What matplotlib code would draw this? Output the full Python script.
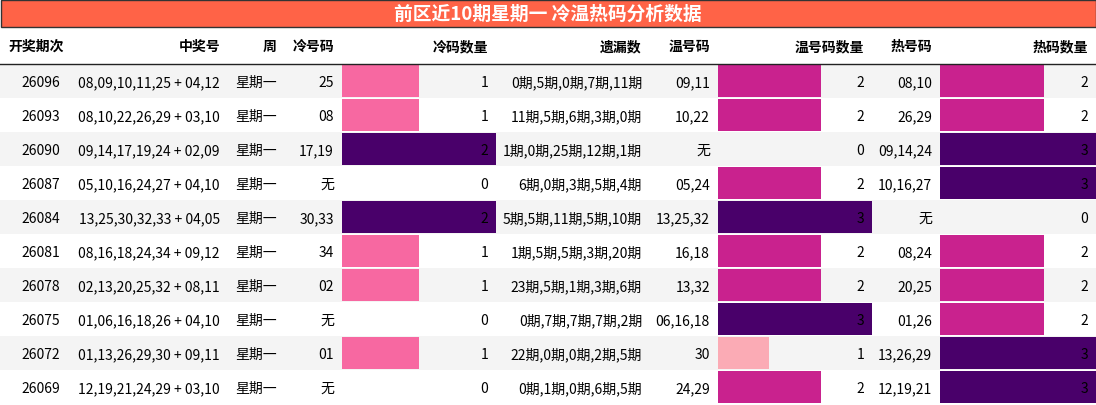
import matplotlib
matplotlib.use('Agg')
import matplotlib.pyplot as plt
from matplotlib.patches import Rectangle

plt.rcParams['font.family'] = ['Noto Sans CJK SC', 'DejaVu Sans']

title = '前区近10期星期一 冷温热码分析数据'
headers = ['开奖期次', '中奖号', '周', '冷号码', '冷码数量', '遗漏数', '温号码', '温号码数量', '热号码', '热码数量']
issues = ['26096', '26093', '26090', '26087', '26084', '26081', '26078', '26075', '26072', '26069']
numbers = ['08,09,10,11,25 + 04,12', '08,10,22,26,29 + 03,10', '09,14,17,19,24 + 02,09',
           '05,10,16,24,27 + 04,10', '13,25,30,32,33 + 04,05', '08,16,18,24,34 + 09,12',
           '02,13,20,25,32 + 08,11', '01,06,16,18,26 + 04,10', '01,13,26,29,30 + 09,11',
           '12,19,21,24,29 + 03,10']
weekday = ['星期一'] * 10
cold = ['25', '08', '17,19', '无', '30,33', '34', '02', '无', '01', '无']
cold_n = [1, 1, 2, 0, 2, 1, 1, 0, 1, 0]
miss = ['0期,5期,0期,7期,11期', '11期,5期,6期,3期,0期', '1期,0期,25期,12期,1期', '6期,0期,3期,5期,4期',
        '5期,5期,11期,5期,10期', '1期,5期,5期,3期,20期', '23期,5期,1期,3期,6期', '0期,7期,7期,7期,2期',
        '22期,0期,0期,2期,5期', '0期,1期,0期,6期,5期']
warm = ['09,11', '10,22', '无', '05,24', '13,25,32', '16,18', '13,32', '06,16,18', '30', '24,29']
warm_n = [2, 2, 0, 2, 3, 2, 2, 3, 1, 2]
hot = ['08,10', '26,29', '09,14,24', '10,16,27', '无', '08,24', '20,25', '01,26', '13,26,29', '12,19,21']
hot_n = [2, 2, 3, 3, 0, 2, 2, 2, 3, 3]

# column edges in pixels
edges = [0, 68, 228, 285, 342, 496, 650, 718, 872, 940, 1096]
bar_cols = {4: (cold_n, 2), 7: (warm_n, 3), 9: (hot_n, 3)}
colors = {1: '#f768a1', 2: '#c51b8a', 3: '#49006a'}
warm_colors = {1: '#fbabb5', 2: '#c9228e', 3: '#49006a'}
cold_colors = {1: '#f768a1', 2: '#49006a'}
hot_colors = {2: '#c9228e', 3: '#49006a'}
palettes = {4: cold_colors, 7: warm_colors, 9: hot_colors}

W, H = 1096, 406
fig = plt.figure(figsize=(W / 100, H / 100), dpi=100)
ax = fig.add_axes([0, 0, 1, 1])
ax.set_xlim(0, W)
ax.set_ylim(H, 0)
ax.axis('off')

# title bar
ax.add_patch(Rectangle((0.5, 0.5), W - 1, 27.5, facecolor='#ff6347', edgecolor='#333333', lw=1))
ax.text(W / 2, 14.5, title, ha='center', va='center', color='white', fontsize=13.5, fontweight='bold')

# header
hy = 47
for i, h in enumerate(headers):
    if i == 0:
        ax.text(edges[0] + 8, hy, h, ha='left', va='center', fontsize=10, fontweight='bold')
    else:
        ax.text(edges[i + 1] - 8, hy, h, ha='right', va='center', fontsize=10, fontweight='bold')
ax.plot([0, W], [65, 65], color='#222222', lw=1)

cols = [issues, numbers, weekday, cold, cold_n, miss, warm, warm_n, hot, hot_n]
row_h = 34
for r in range(len(issues)):
    y0 = 65 + r * row_h
    if r % 2 == 0:
        ax.add_patch(Rectangle((0, y0), W, row_h, facecolor='#f4f4f4', edgecolor='none'))
    for c in range(10):
        x0, x1 = edges[c], edges[c + 1]
        if c in bar_cols:
            vals, vmax = bar_cols[c]
            v = vals[r]
            if v > 0:
                ax.add_patch(Rectangle((x0, y0 + 1), (x1 - x0) * v / vmax, row_h - 2,
                                       facecolor=palettes[c][v], edgecolor='none'))
        ax.text(x1 - 8, y0 + row_h / 2 + 1, str(cols[c][r]), ha='right', va='center', fontsize=10)

fig.savefig('out.png', dpi=100)
